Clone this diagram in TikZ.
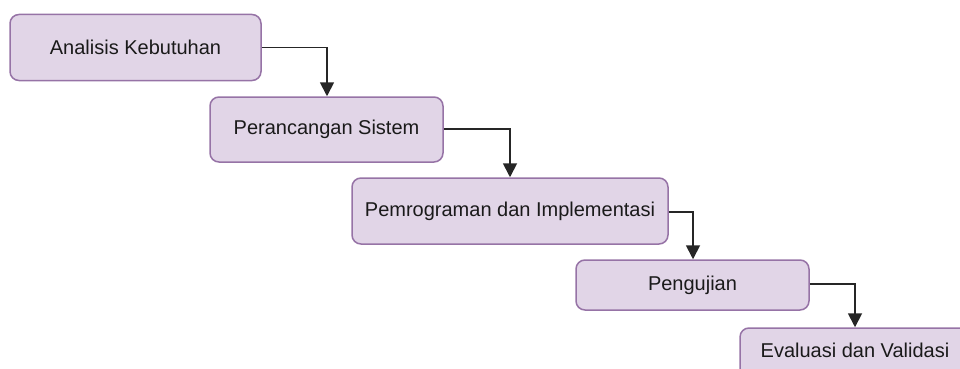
\documentclass[tikz,border=0pt]{standalone}
\usepackage{fontspec}
\setmainfont{Liberation Sans}
\usetikzlibrary{arrows.meta}
\definecolor{boxfill}{HTML}{E1D5E7}
\definecolor{boxline}{HTML}{9673A6}
\definecolor{txt}{HTML}{1A1A1A}
\tikzset{
  stage/.style={draw=boxline, fill=boxfill, line width=1.5pt, rounded corners=9pt,
    inner sep=0pt, font=\fontsize{20}{23}\selectfont, text=txt},
  flow/.style={draw=black!85, line width=1.8pt, -{Triangle[width=14pt,length=14pt]}}
}
\begin{document}
\begin{tikzpicture}[x=1pt,y=-1pt]
\useasboundingbox (0,0) rectangle (960,369);
\clip (0,0) rectangle (960,369);
\node[stage, minimum width=251pt, minimum height=66pt] (a) at (135.5,47.5) {Analisis Kebutuhan};
\node[stage, minimum width=233pt, minimum height=65pt] (b) at (326.5,129.5) {Perancangan Sistem};
\node[stage, minimum width=316pt, minimum height=66pt] (c) at (510,211) {Pemrograman dan Implementasi};
\node[stage, minimum width=233pt, minimum height=50pt] (d) at (692.5,285) {Pengujian};
\node[stage, minimum width=230pt, minimum height=66pt] (e) at (855,361) {};
\node[font=\fontsize{20}{23}\selectfont, text=txt, inner sep=0pt] (et) at (855,350) {Evaluasi dan Validasi};
\coordinate (ab) at (327,47.5);
\coordinate (bc) at (510,129);
\coordinate (cd) at (693,212);
\coordinate (de) at (855,284);
\draw[flow] (a.east) -- (ab) -- (ab |- b.north);
\draw[flow] (b.east |- bc) -- (bc) -- (bc |- c.north);
\draw[flow] (c.east |- cd) -- (cd) -- (cd |- d.north);
\draw[flow] (d.east |- de) -- (de) -- (de |- e.north);
\end{tikzpicture}
\end{document}
